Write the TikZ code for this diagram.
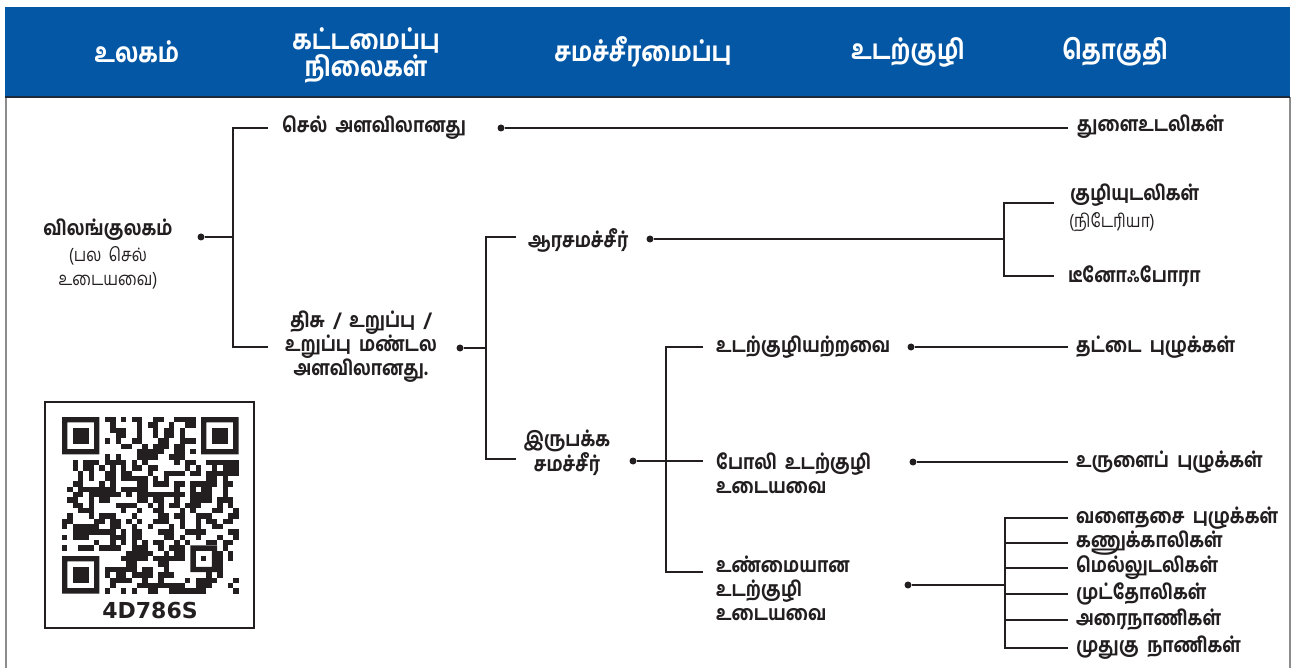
\documentclass[tikz,border=0pt]{standalone}
\usepackage{fontspec}
\IfFontExistsTF{Hind Madurai Bold}
  {\setmainfont[Script=Tamil,WordSpace=1.9,FakeStretch=0.85,BoldFont={Hind Madurai Bold}]{Hind Madurai}}
  {\setmainfont[Script=Tamil,WordSpace=1.9,FakeStretch=0.85,BoldFeatures={FakeBold=1.5}]{Hind Madurai}}
\newfontfamily\qrfont{DejaVu Sans}
\definecolor{hblue}{RGB}{3,87,165}
\definecolor{ink}{RGB}{35,31,32}
\definecolor{edge}{RGB}{140,140,140}
\begin{document}
\begin{tikzpicture}[x=1pt,y=-1pt,
  hdr/.style={text=white,font=\fontsize{27}{27}\selectfont\bfseries,align=center,inner sep=0pt},
  lab/.style={text=ink,font=\fontsize{20.5}{24}\selectfont\bfseries,inner sep=0pt,anchor=west,align=left},
  sub/.style={text=ink,font=\fontsize{18.5}{24}\selectfont,inner sep=0pt},
  dot/.style={circle,fill=ink,inner sep=0pt,minimum size=7pt},
  dline/.style={draw=ink,line width=1.8pt},
  br/.style={draw=ink,line width=1.2pt},
]
\useasboundingbox (0,0) rectangle (1296,668);
% header and frame
\fill[hblue] (5,7) rectangle (1290,97);
\draw[edge,line width=1.2pt] (6,97) -- (6,668);
\draw[edge,line width=1.2pt] (1290,97) -- (1290,668);
\draw[ink!80!hblue,line width=1.2pt] (5,97) -- (1290,97);
\node[hdr] (h1) at (137,52) {உலகம்};
\node[hdr] (h2) at (366,55) {கட்டமைப்பு\\நிலைகள்};
\node[hdr] (h3) at (643,52) {சமச்சீரமைப்பு};
\node[hdr] (h4) at (908,52) {உடற்குழி};
\node[hdr] (h5) at (1115,52) {தொகுதி};

% nodes
\node[lab,anchor=center] (animal) at (108,230) {விலங்குலகம்};
\node[sub] (animal2) at (108,256) {(பல செல்};
\node[sub] (animal3) at (108,281) {உடையவை)};
\node[dot] (d1) at (201,237) {};
\coordinate (j1) at (233,237);

\node[lab] (cell) at (282,128) {செல் அளவிலானது};
\node[dot] (d2) at (501,128) {};
\node[lab] (pori) at (1077,127) {துளைஉடலிகள்};

\node[lab,anchor=center,align=center] (tissue) at (361,347) {திசு / உறுப்பு /\\உறுப்பு மண்டல\\அளவிலானது.};
\node[dot] (d3) at (460,348) {};
\coordinate (j2) at (486,348);

\node[lab] (radial) at (528,240) {ஆரசமச்சீர்};
\node[dot] (d4) at (650,239) {};
\coordinate (j3) at (1004,239);
\node[lab] (cnid) at (1070,195) {குழியுடலிகள்};
\node[sub,anchor=west] (cnid2) at (1069,222) {(நிடேரியா)};
\node[lab] (cteno) at (1068,276) {டீனோஃபோரா};

\node[lab,anchor=center,align=center] (bilat) at (567,453) {இருபக்க\\சமச்சீர்};
\node[dot] (d5) at (633,461) {};
\coordinate (j4) at (666,461);

\node[lab] (acoel) at (716,347) {உடற்குழியற்றவை};
\node[dot] (d6) at (911,347) {};
\node[lab] (flat) at (1076,347) {தட்டை புழுக்கள்};

\node[lab] (pseudo) at (716,473) {போலி உடற்குழி\\உடையவை};
\node[dot] (d7) at (913,462) {};
\node[lab] (round) at (1076,462) {உருளைப் புழுக்கள்};

\node[lab] (coel) at (716,588) {உண்மையான\\உடற்குழி\\உடையவை};
\node[dot] (d8) at (908,585) {};
\coordinate (j5) at (1005,585);
\node[lab] (p1) at (1076,518) {வளைதசை புழுக்கள்};
\node[lab] (p2) at (1076,543) {கணுக்காலிகள்};
\node[lab] (p3) at (1076,568) {மெல்லுடலிகள்};
\node[lab] (p4) at (1076,594) {முட்தோலிகள்};
\node[lab] (p5) at (1076,620) {அரைநாணிகள்};
\node[lab] (p6) at (1076,648) {முதுகு நாணிகள்};

% connectors
\draw[dline] (d1) -- (j1);
\draw[br] (268,128) -| (j1) |- (268,347);
\draw[dline] (d2) -- (1068,128);
\draw[dline] (d3) -- (j2);
\draw[br] (516,237) -| (j2) |- (516,459);
\draw[dline] (d4) -- (j3);
\draw[br] (1054,203) -| (j3) |- (1054,276);
\draw[dline] (d5) -- (703,461);
\draw[br] (703,347) -| (j4) |- (703,572);
\draw[dline] (d6) -- (1068,347);
\draw[dline] (d7) -- (1068,462);
\draw[br] (d8) -- (j5);
\draw[br] (1068,518) -| (j5) |- (1068,648);
\foreach \yy in {543,568,594,620} \draw[br] (1005,\yy) -- (1068,\yy);

% QR code
\draw[ink,line width=1.4pt] (45,402) rectangle (254,628);
\def\qm{5.35}
\pgfmathsetseed{4786}
\foreach \i in {0,...,32}{
  \foreach \j in {0,...,32}{
    \pgfmathtruncatemacro\qrskip{((\i<8 && \j<8) || (\i>24 && \j<8) || (\i<8 && \j>24) || (\i>23 && \i<29 && \j>23 && \j<29)) ? 1 : 0}
    \ifnum\qrskip=0
      \pgfmathrandominteger{\qrr}{0}{1}
      \ifnum\qrr=1 \fill[ink] (62+\i*\qm,417+\j*\qm) rectangle ++(\qm,\qm);\fi
    \fi
  }
}
\foreach \ox/\oy in {0/0,26/0,0/26}{
  \fill[ink,even odd rule] (62+\ox*\qm,417+\oy*\qm) rectangle ++(7*\qm,7*\qm)
     (62+\ox*\qm+\qm,417+\oy*\qm+\qm) rectangle ++(5*\qm,5*\qm);
  \fill[ink] (62+\ox*\qm+2*\qm,417+\oy*\qm+2*\qm) rectangle ++(3*\qm,3*\qm);
}
\fill[ink,even odd rule] (62+24*\qm,417+24*\qm) rectangle ++(5*\qm,5*\qm)
     (62+25*\qm,417+25*\qm) rectangle ++(3*\qm,3*\qm);
\fill[ink] (62+26*\qm,417+26*\qm) rectangle ++(\qm,\qm);
\node[text=ink,font=\qrfont\bfseries\fontsize{22}{22}\selectfont,inner sep=0pt] (qrcode) at (150,610) {4D786S};
\end{tikzpicture}
\end{document}
